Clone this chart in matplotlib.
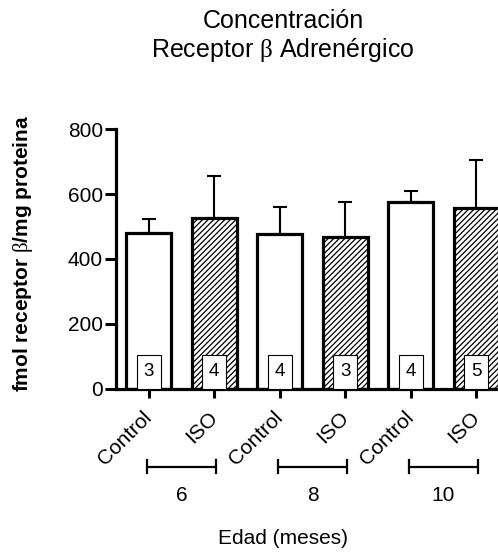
import matplotlib
matplotlib.use('Agg')
import matplotlib.pyplot as plt
import matplotlib.transforms as mtransforms
from matplotlib.patches import Rectangle
import numpy as np

plt.rcParams['font.family'] = ['Liberation Sans', 'DejaVu Sans']
plt.rcParams['mathtext.fontset'] = 'custom'
plt.rcParams['mathtext.rm'] = 'Liberation Serif'
plt.rcParams['hatch.linewidth'] = 0.9

# Data
treatments = ['Control', 'ISO', 'Control', 'ISO', 'Control', 'ISO']
ages = ['6', '8', '10']
means = [479, 525, 477, 467, 576, 558]
sem = [43, 130, 82, 109, 34, 147]
n_animals = [3, 4, 4, 3, 4, 5]
yticks = [0, 200, 400, 600, 800]

fig = plt.figure(figsize=(4.98, 5.52), dpi=100)
ax = fig.add_axes([0.2329, 0.2953, 0.7892, 0.471])

x = np.arange(len(means))
hatches = ['' if t == 'Control' else '//////' for t in treatments]
ax.bar(x, means, width=0.68, color='white', edgecolor='black',
       linewidth=2.3, hatch=hatches, zorder=2)
ax.errorbar(x, means, yerr=[np.zeros(len(sem)), sem], fmt='none',
            ecolor='black', elinewidth=1.5, capsize=5, capthick=1.5, zorder=3)

# sample-size boxes at the base of each bar
bw, bh = 0.37, 106
for xi, n in zip(x, n_animals):
    ax.add_patch(Rectangle((xi - bw / 2, 0), bw, bh, facecolor='white',
                           edgecolor='black', linewidth=0.8, zorder=4))
    ax.text(xi, bh / 2, str(n), ha='center', va='center', fontsize=13.5, zorder=5)

ax.set_xlim(-0.5, 5.5)
ax.set_ylim(0, 800)
ax.set_yticks(yticks)
ax.set_xticks(x)
ax.set_xticklabels(treatments, rotation=45, ha='right', va='center',
                   rotation_mode='anchor', fontsize=15)
ax.tick_params(axis='y', labelsize=15, length=8, width=2.2, pad=1.5)
ax.tick_params(axis='x', length=6.5, width=2.2, pad=12)
for side in ('top', 'right'):
    ax.spines[side].set_visible(False)
for side in ('left', 'bottom'):
    ax.spines[side].set_linewidth(2.3)

# age group brackets
trans = mtransforms.blended_transform_factory(ax.transData, ax.transAxes)
yb = -0.30
for g, age in enumerate(ages):
    x0, x1 = 2 * g - 0.03, 2 * g + 1 + 0.03
    ax.plot([x0, x1], [yb, yb], transform=trans, color='black', lw=1.6,
            clip_on=False, solid_capstyle='butt')
    for xe in (x0, x1):
        ax.plot([xe, xe], [yb - 0.025, yb + 0.025], transform=trans,
                color='black', lw=1.6, clip_on=False)
    ax.text(2 * g + 0.5, -0.408, age, transform=trans, ha='center',
            va='center', fontsize=15)

fig.text(283 / 498, 1 - 538 / 552, 'Edad (meses)', ha='center', va='center',
         fontsize=15)
fig.text(23 / 498, 1 - 253.5 / 552,
         r'fmol receptor $\mathrm{\beta}$/mg proteina', rotation=90,
         ha='center', va='center', fontsize=15, fontweight='bold')
fig.text(283 / 498, 1 - 28.5 / 552, 'Concentración', ha='center',
         va='baseline', fontsize=18)
fig.text(283 / 498, 1 - 57 / 552, r'Receptor $\mathrm{\beta}$ Adrenérgico',
         ha='center', va='baseline', fontsize=18)

fig.savefig('out.png', dpi=100)
